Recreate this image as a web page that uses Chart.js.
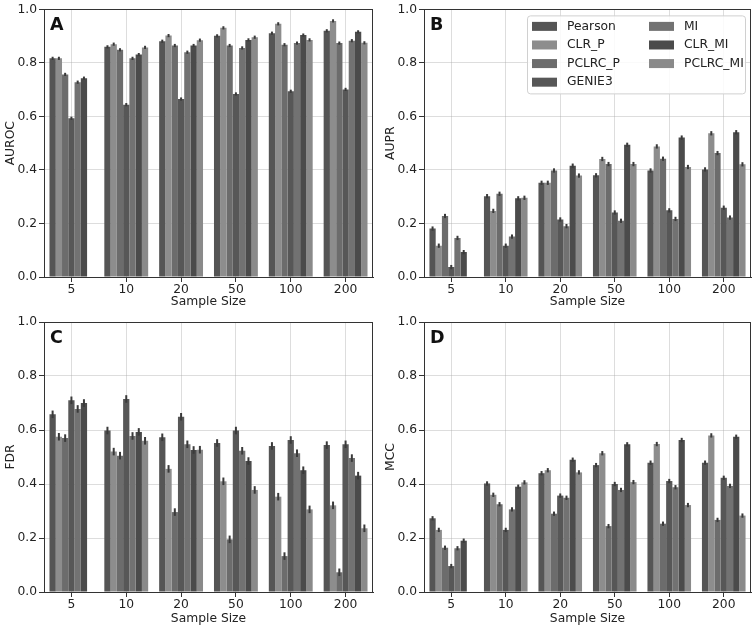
<!DOCTYPE html>
<html>
<head>
<meta charset="utf-8">
<script src="https://cdn.jsdelivr.net/npm/chart.js@4.4.1/dist/chart.umd.min.js"></script>
<style>
  body { margin: 0; background: #fff; width: 755px; height: 628px; position: relative; overflow: hidden; }
  canvas { position: absolute; }
</style>
</head>
<body>
<canvas id="panelA" width="377" height="310" style="left:0;top:0"></canvas>
<canvas id="panelB" width="375" height="310" style="left:380px;top:0"></canvas>
<canvas id="panelC" width="377" height="318" style="left:0;top:310px"></canvas>
<canvas id="panelD" width="375" height="318" style="left:380px;top:310px"></canvas>
<script>
// categories and series
const sampleSizes = ['5', '10', '20', '50', '100', '200'];
const methods = ['Pearson', 'CLR_P', 'PCLRC_P', 'GENIE3', 'MI', 'CLR_MI', 'PCLRC_MI'];
const methodColors = ['#555555', '#8d8d8d', '#6c6c6c', '#575757', '#727272', '#4b4b4b', '#8a8a8a'];

// one row per method, one value per sample size (PCLRC_MI has no value at n=5)
const auroc = [
  [0.817, 0.860, 0.881, 0.901, 0.911, 0.920],
  [0.817, 0.870, 0.902, 0.931, 0.946, 0.957],
  [0.757, 0.849, 0.865, 0.865, 0.868, 0.874],
  [0.593, 0.644, 0.665, 0.684, 0.694, 0.701],
  [0.728, 0.817, 0.840, 0.856, 0.874, 0.883],
  [0.743, 0.831, 0.865, 0.886, 0.904, 0.916],
  [null, 0.858, 0.885, 0.896, 0.886, 0.875]
];
const aupr = [
  [0.181, 0.302, 0.352, 0.380, 0.398, 0.402],
  [0.117, 0.247, 0.352, 0.441, 0.488, 0.537],
  [0.228, 0.311, 0.398, 0.422, 0.442, 0.463],
  [0.037, 0.117, 0.215, 0.241, 0.249, 0.259],
  [0.146, 0.151, 0.190, 0.210, 0.217, 0.222],
  [0.093, 0.294, 0.416, 0.494, 0.521, 0.541],
  [null, 0.296, 0.379, 0.422, 0.411, 0.421]
];
const fdr = [
  [0.658, 0.598, 0.573, 0.552, 0.541, 0.544],
  [0.575, 0.520, 0.456, 0.410, 0.353, 0.321],
  [0.570, 0.505, 0.296, 0.195, 0.133, 0.073],
  [0.710, 0.715, 0.649, 0.598, 0.563, 0.547],
  [0.678, 0.578, 0.547, 0.523, 0.514, 0.496],
  [0.700, 0.593, 0.526, 0.485, 0.451, 0.431],
  [null, 0.560, 0.527, 0.378, 0.306, 0.236]
];
const mcc = [
  [0.273, 0.402, 0.440, 0.470, 0.479, 0.479],
  [0.230, 0.360, 0.451, 0.514, 0.548, 0.580],
  [0.164, 0.325, 0.290, 0.244, 0.253, 0.267],
  [0.096, 0.230, 0.357, 0.400, 0.411, 0.423],
  [0.162, 0.306, 0.349, 0.378, 0.388, 0.393],
  [0.190, 0.390, 0.490, 0.547, 0.563, 0.575],
  [null, 0.406, 0.443, 0.407, 0.322, 0.283]
];
// half height of the error bars
const errAuroc = 0.006, errAupr = 0.008, errFdr = 0.014, errMcc = 0.008;
const yTicks = [0, 0.2, 0.4, 0.6, 0.8, 1.0];

Chart.defaults.font.family = 'DejaVu Sans';
Chart.defaults.font.size = 12.3;
Chart.defaults.color = '#222';

//error bars drawn at each bar centre
const errorBars = {
  id: 'errorBars',
  afterDatasetsDraw(chart, args, opts) {
    const ctx = chart.ctx, y = chart.scales.y;
    ctx.save();
    ctx.strokeStyle = '#3a3a3a';
    ctx.lineWidth = 2;
    chart.data.datasets.forEach((ds, i) => {
      chart.getDatasetMeta(i).data.forEach((bar, j) => {
        const v = ds.data[j];
        if (v == null) return;
        ctx.beginPath();
        ctx.moveTo(bar.x, y.getPixelForValue(v - opts.err));
        ctx.lineTo(bar.x, y.getPixelForValue(v + opts.err));
        ctx.stroke();
      });
    });
    ctx.restore();
  }
};

//axes frame, panel letter and the two-column legend
const decor = {
  id: 'decor',
  afterDraw(chart, args, opts) {
    const ctx = chart.ctx, a = chart.chartArea;
    ctx.save();
    ctx.strokeStyle = '#333';
    ctx.lineWidth = 1;
    ctx.strokeRect(Math.round(a.left) + 0.5, Math.round(a.top) + 0.5,
      Math.round(a.right - a.left) - 1, Math.round(a.bottom - a.top));
    ctx.fillStyle = '#111';
    ctx.font = 'bold 17.5px "DejaVu Sans"';
    ctx.textBaseline = 'middle';
    ctx.fillText(opts.letter, a.left + 6, a.top + 16);
    if (opts.legend) {
      const x0 = a.left + 103, y0 = a.top + 6, w = 218, h = 78;
      ctx.beginPath();
      ctx.roundRect(x0 + 0.5, y0 + 0.5, w, h, 3);
      ctx.fillStyle = 'rgba(255,255,255,0.85)';
      ctx.fill();
      ctx.strokeStyle = '#d0d0d0';
      ctx.stroke();
      ctx.font = '12.3px "DejaVu Sans"';
      methods.forEach((m, i) => {
        const col = i < 4 ? 0 : 1, row = i < 4 ? i : i - 4;
        const px = x0 + 5 + col * 117, py = y0 + 11 + row * 18.6;
        ctx.fillStyle = methodColors[i];
        ctx.fillRect(px, py - 4.5, 25, 9);
        ctx.fillStyle = '#222';
        ctx.fillText(m, px + 35, py);
      });
    }
    ctx.restore();
  }
};

function makePanel(id, letter, yTitle, rows, err, top, xHeight, titlePad, legend) {
  return new Chart(document.getElementById(id), {
    type: 'bar',
    plugins: [errorBars, decor],
    data: {
      labels: sampleSizes,
      datasets: methods.map((m, i) => ({
        label: m,
        data: rows[i],
        backgroundColor: methodColors[i],
        borderWidth: 0,
        categoryPercentage: 0.8,
        barPercentage: 1.0
      }))
    },
    options: {
      responsive: false,
      animation: false,
      devicePixelRatio: 1,
      layout: { padding: { top: top, right: 4, left: 0, bottom: 0 } },
      plugins: {
        legend: { display: false },
        tooltip: { enabled: false },
        errorBars: { err: err },
        decor: { letter: letter, legend: legend }
      },
      scales: {
        x: {
          z: 1,
          afterFit: (s) => { s.height = xHeight; },
          grid: { offset: false, color: 'rgba(170,170,170,0.4)', tickColor: '#333', tickLength: 5 },
          border: { color: '#333' },
          ticks: { padding: 0, color: '#222' },
          title: { display: true, text: 'Sample Size', color: '#222', padding: { top: 0, bottom: titlePad } }
        },
        y: {
          z: 1,
          min: 0,
          max: 1,
          afterFit: (s) => { s.width = 44; },
          afterBuildTicks: (s) => { s.ticks = yTicks.map(v => ({ value: v })); },
          grid: { color: 'rgba(170,170,170,0.4)', tickColor: '#333', tickLength: 5 },
          border: { color: '#333' },
          ticks: { padding: 2, color: '#222', callback: (v) => v.toFixed(1) },
          title: { display: true, text: yTitle, color: '#222', padding: { top: 3, bottom: 2 } }
        }
      }
    }
  });
}

makePanel('panelA', 'A', 'AUROC', auroc, errAuroc, 7, 33, 1, false);
makePanel('panelB', 'B', 'AUPR', aupr, errAupr, 7, 33, 1, true);
makePanel('panelC', 'C', 'FDR', fdr, errFdr, 12, 36, 2, false);
makePanel('panelD', 'D', 'MCC', mcc, errMcc, 12, 36, 2, false);
</script>
</body>
</html>
